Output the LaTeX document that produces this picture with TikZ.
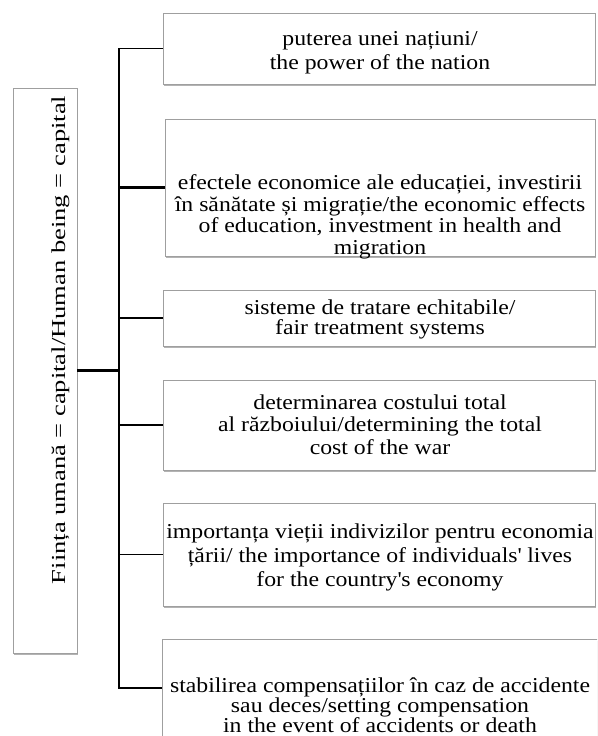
\documentclass[tikz,border=0pt]{standalone}
\usepackage{fontspec}
\newfontfamily\boxfont[FakeStretch=1.12]{Liberation Serif}
\newfontfamily\sidefont[FakeStretch=1.34]{Liberation Serif}
\usetikzlibrary{shadows}

\tikzset{
  box/.style={draw=gray!75, line width=0.8pt, fill=white, inner sep=0pt,
    drop shadow={shadow xshift=1.2pt, shadow yshift=-2.4pt, fill=gray!70, opacity=0.85}},
  txt/.style={align=center, inner sep=0pt, font=\boxfont\fontsize{21.2}{#1}\selectfont},
  txt/.default=22,
  link/.style={line width=1.1pt}
}

\begin{document}
\begin{tikzpicture}[x=1pt,y=-1pt]
    \useasboundingbox (0,0) rectangle (597,736);
    \clip (0,0) rectangle (597,736);
    \def\bx{379}
    \def\bw{432}
    % left box
    \node[box, minimum width=64pt, minimum height=565pt] (L) at (45,370.5) {};
    \node[rotate=90, anchor=base, inner sep=0pt, font=\sidefont\fontsize{19.8}{20}\selectfont] (Lt) at (65,340)
      {Ființa umană = capital/Human being = capital};
    % right boxes
    \node[box, minimum width=\bw pt, minimum height=71pt] (b1) at (\bx,48.5) {};
    \node[box, minimum width=430pt, minimum height=137pt] (b2) at (380,187.5) {};
    \node[box, minimum width=\bw pt, minimum height=56pt] (b3) at (\bx,318) {};
    \node[box, minimum width=\bw pt, minimum height=90pt] (b4) at (\bx,425) {};
    \node[box, minimum width=\bw pt, minimum height=103pt] (b5) at (\bx,554.5) {};
    \node[box, minimum width=438pt, minimum height=98pt] (b6) at (381,688) {};
    \node[txt=24] (t1) at (380,52.5) {puterea unei națiuni/\\the power of the nation};
    \node[txt=21.5] (t2) at (380,217) {efectele economice ale educației, investirii\\în sănătate și migrație/the economic effects\\of education, investment in health and\\migration};
    \node[txt=20] (t3) at (380,319.5) {sisteme de tratare echitabile/\\fair treatment systems};
    \node[txt=22.5] (t4) at (380,424.7) {determinarea costului total\\al războiului/determining the total\\cost of the war};
    \node[txt=24] (t5) at (380,557) {importanța vieții indivizilor pentru economia\\țării/ the importance of individuals{\textquotesingle} lives\\for the country{\textquotesingle}s economy};
    \node[txt=20] (t6) at (380,705) {stabilirea compensațiilor în caz de accidente\\sau deces/setting compensation\\in the event of accidents or death};
    % connectors
    \coordinate (hub) at (119,370.5);
    \draw[link] (hub) |- (b1.west);
    \draw[link] (hub) |- (b4.west);
    \draw[link] (hub) |- (b5.west);
    \draw[link] (hub) |- (b6.west);
    \draw[line width=1.6pt] (hub) |- (b3.west);
    \draw[line width=2.2pt] (hub) |- (b2.west);
    \draw[line width=2.6pt] (L.east) -- (hub);
\end{tikzpicture}
\end{document}
